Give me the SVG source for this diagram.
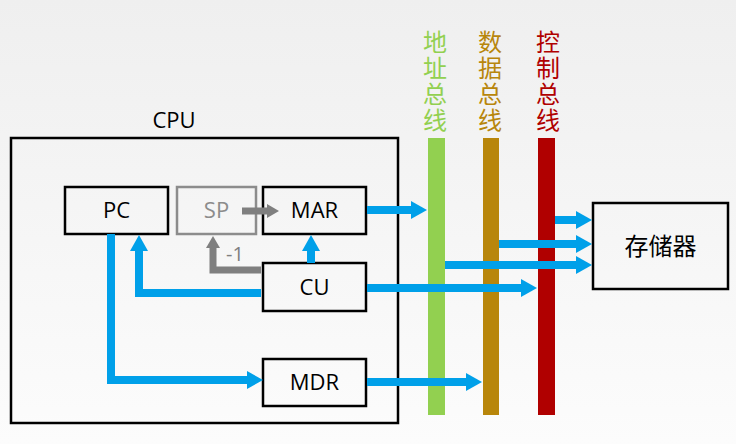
<svg xmlns="http://www.w3.org/2000/svg" width="736" height="444" viewBox="0 0 736 444">
<defs>
<linearGradient id="bg" x1="0" y1="0" x2="0" y2="1">
<stop offset="0" stop-color="#efefef"/>
<stop offset="1" stop-color="#fcfcfc"/>
</linearGradient>
<marker id="ab" viewBox="0 0 16 18" refX="1" refY="9" markerWidth="16" markerHeight="18" markerUnits="userSpaceOnUse" orient="auto">
<path d="M0,0 L16,9 L0,18 Z" fill="#00A0E9"/>
</marker>
<marker id="ag" viewBox="0 0 12 14" refX="1" refY="7" markerWidth="12" markerHeight="14" markerUnits="userSpaceOnUse" orient="auto">
<path d="M0,0 L12,7 L0,14 Z" fill="#7F7F7F"/>
</marker>
</defs>
<style>
.box{fill:none;stroke:#000;stroke-width:2.5}
.lbl{font-family:"Open Sans","Liberation Sans",sans-serif;font-size:22px;text-anchor:middle;fill:#000}
.cjk{font-family:"Noto Sans CJK SC",sans-serif;font-size:24px;text-anchor:middle}
.vert{font-family:"Noto Sans CJK SC",sans-serif;font-size:24px;writing-mode:vertical-rl;letter-spacing:2px}
.blue{fill:none;stroke:#00A0E9;stroke-width:8;marker-end:url(#ab)}
.gray{fill:none;stroke:#7F7F7F;stroke-width:7;marker-end:url(#ag)}
</style>
<rect width="736" height="444" fill="url(#bg)"/>

<g id="cpu">
<rect class="box" x="11" y="138" width="387" height="285"/>
<text class="lbl" x="174" y="128">CPU</text>
</g>

<g id="bus-addr">
<rect x="428" y="138" width="17" height="277" fill="#92D050"/>
<text class="vert" x="435" y="30" fill="#92D050">地址总线</text>
</g>
<g id="bus-data">
<rect x="483" y="138" width="16" height="277" fill="#B8860B"/>
<text class="vert" x="490" y="30" fill="#B8860B">数据总线</text>
</g>
<g id="bus-ctrl">
<rect x="538" y="138" width="17" height="277" fill="#B00000"/>
<text class="vert" x="548" y="30" fill="#B00000">控制总线</text>
</g>

<g id="pc">
<rect class="box" x="65" y="187" width="103" height="47"/>
<text class="lbl" x="116.5" y="218">PC</text>
</g>
<g id="sp">
<rect x="177" y="187" width="79" height="47" fill="none" stroke="#8C8C8C" stroke-width="2.5"/>
<text class="lbl" x="216.5" y="218" style="fill:#8C8C8C">SP</text>
</g>
<g id="mar">
<rect class="box" x="263" y="187" width="103" height="47"/>
<text class="lbl" x="314.5" y="218">MAR</text>
</g>
<g id="cu">
<rect class="box" x="263" y="263" width="103" height="48"/>
<text class="lbl" x="314.5" y="295">CU</text>
</g>
<g id="mdr">
<rect class="box" x="263" y="359" width="103" height="47"/>
<text class="lbl" x="314.5" y="390">MDR</text>
</g>
<g id="memory">
<rect class="box" x="593" y="203" width="135" height="86"/>
<text class="cjk" x="660.5" y="255" fill="#000">存储器</text>
</g>

<g id="connectors">
<path class="blue" d="M111,234 V380 H248"/>
<path class="blue" d="M261,293 H139 V250"/>
<path class="blue" d="M311,263 V250"/>
<path class="gray" d="M261,270 H213 V247"/>
<path class="gray" d="M242,211 H268"/>
<text x="226" y="261" font-family="'Open Sans','Liberation Sans',sans-serif" font-size="20" fill="#7F7F7F">-1</text>
<path class="blue" d="M367,210 H412"/>
<path class="blue" d="M367,288 H522"/>
<path class="blue" d="M367,382 H467"/>
<path class="blue" d="M555,220 H577"/>
<path class="blue" d="M499,244 H577"/>
<path class="blue" d="M445,265 H577"/>
</g>
</svg>
